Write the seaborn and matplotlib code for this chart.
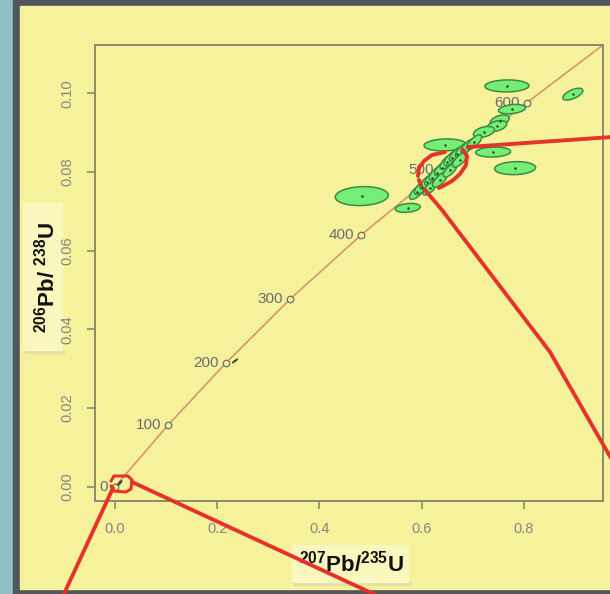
import numpy as np
import pandas as pd
import seaborn as sns
import matplotlib.pyplot as plt
from matplotlib.lines import Line2D
from matplotlib.patches import Rectangle

# concordia ages (Ma) and their ratios
ages = [0, 100, 200, 300, 400, 500, 600]
conc_x = [0.0, 0.1035, 0.2172, 0.343, 0.4816, 0.6378, 0.806]
conc_y = [0.0, 0.01563, 0.03149, 0.04773, 0.0640, 0.08064, 0.09764]
# the curve keeps going to the top right corner
conc_end_x = 0.955
conc_end_y = 0.1123

# analyses: centre, half extent of the ellipse on each axis, correlation
ell_x = [0.483, 0.573, 0.646, 0.740, 0.783, 0.767, 0.896, 0.777, 0.753,
         0.747, 0.722,
         0.591, 0.601, 0.611, 0.620, 0.630, 0.640, 0.650, 0.659, 0.669,
         0.681, 0.691, 0.703, 0.616, 0.636, 0.656, 0.675,
         0.235, 0.0098]
ell_y = [0.0739, 0.0709, 0.0869, 0.0851, 0.0810, 0.1019, 0.0998, 0.0960, 0.0931,
         0.0917, 0.0902,
         0.0749, 0.0762, 0.0775, 0.0785, 0.0798, 0.0810, 0.0826, 0.0836, 0.0846,
         0.0856, 0.0866, 0.0876, 0.0759, 0.0780, 0.0805, 0.0831,
         0.0320, 0.0010]
ell_xerr = [0.0519, 0.0245, 0.0411, 0.0342, 0.0401, 0.0431, 0.0196, 0.0264, 0.0186,
            0.0196, 0.0206,
            0.0145, 0.0150, 0.0145, 0.0140, 0.0150, 0.0145, 0.0140, 0.0150, 0.0145,
            0.0150, 0.0140, 0.0145, 0.0135, 0.0145, 0.0135, 0.0145,
            0.0050, 0.0040]
ell_yerr = [0.00241, 0.00114, 0.00152, 0.00127, 0.00165, 0.00152, 0.00150, 0.00120, 0.00140,
            0.00140, 0.00140,
            0.00185, 0.00190, 0.00185, 0.00180, 0.00190, 0.00185, 0.00180, 0.00190, 0.00185,
            0.00190, 0.00180, 0.00185, 0.00175, 0.00185, 0.00175, 0.00185,
            0.0005, 0.0006]
ell_rho = [0.1, 0.25, 0.1, 0.1, 0.1, 0.05, 0.6, 0.3, 0.4,
           0.4, 0.4,
           0.7, 0.7, 0.7, 0.7, 0.7, 0.7, 0.7, 0.7, 0.7,
           0.7, 0.7, 0.7, 0.7, 0.7, 0.7, 0.7,
           0.95, 0.9]
ell_kind = ["green"] * 27 + ["dark"] * 2

x_ticks = [0.0, 0.2, 0.4, 0.6, 0.8]
y_ticks = [0.00, 0.02, 0.04, 0.06, 0.08, 0.10]

W, H = 610, 594
TEAL = "#8EC0C5"
DARK = "#51565B"
YELLOW = "#F6F29C"
LABEL_BOX = "#FAF7BE"
RED = "#E5322A"


def fx(x):
    return x / W


def fy(y):
    return 1 - y / H


def red_stroke(fig, pts, lw=2.8):
    xs = [fx(p[0]) for p in pts]
    ys = [fy(p[1]) for p in pts]
    fig.add_artist(Line2D(xs, ys, transform=fig.transFigure, color=RED,
                          lw=lw, solid_capstyle="round", zorder=20))


def label_box(fig, x0, y0, x1, y1):
    # slide text box with a faint shadow under it
    fig.patches.append(Rectangle((fx(x0 + 2), fy(y1 + 3)), fx(x1) - fx(x0),
                                 fy(y1) - fy(y1 + 3), transform=fig.transFigure,
                                 color="#E4E0A6", zorder=-8))
    fig.patches.append(Rectangle((fx(x0), fy(y1)), fx(x1) - fx(x0),
                                 fy(y0) - fy(y1), transform=fig.transFigure,
                                 color=LABEL_BOX, zorder=-7))


def main() -> None:
    sns.set_theme(style="white")
    plt.rcParams["font.family"] = ["Liberation Sans", "DejaVu Sans"]
    plt.rcParams["mathtext.fontset"] = "custom"
    plt.rcParams["mathtext.rm"] = "Liberation Sans"
    plt.rcParams["mathtext.bf"] = "Liberation Sans:bold"

    fig = plt.figure(figsize=(W / 100, H / 100), dpi=100, facecolor=TEAL)
    # slide frame: dark border and yellow panel
    fig.patches.append(Rectangle((fx(13), 0), 1, 1, transform=fig.transFigure,
                                 color=DARK, zorder=-10))
    fig.patches.append(Rectangle((fx(20), fy(589)), 1, fy(6) - fy(589),
                                 transform=fig.transFigure, color=YELLOW, zorder=-9))
    label_box(fig, 292, 545, 408, 582)
    label_box(fig, 23, 203, 62, 350)

    ax = fig.add_axes([fx(95), fy(501), fx(603) - fx(95), fy(45) - fy(501)])
    ax.set_facecolor(YELLOW)

    conc = pd.DataFrame({"x": conc_x + [conc_end_x], "y": conc_y + [conc_end_y]})
    sns.lineplot(data=conc, x="x", y="y", sort=False, color="#D9946C",
                 lw=1.2, ax=ax, zorder=2)
    marks = pd.DataFrame({"x": conc_x, "y": conc_y, "age": ages})
    sns.scatterplot(data=marks, x="x", y="y", s=22, facecolor=YELLOW,
                    edgecolor="#6E6E6E", linewidth=0.9, ax=ax, zorder=3)
    for _, r in marks.iterrows():
        ax.annotate(str(int(r["age"])), (r["x"], r["y"]), xytext=(-5, 0),
                    textcoords="offset points", ha="right", va="center",
                    fontsize=11, color="#6C6C6C", zorder=2)

    t = np.linspace(0, 2 * np.pi, 120)
    for x, y, sx, sy, rho, kind in zip(ell_x, ell_y, ell_xerr, ell_yerr,
                                       ell_rho, ell_kind):
        ex = x + sx * np.cos(t)
        ey = y + sy * (rho * np.cos(t) + np.sqrt(1 - rho ** 2) * np.sin(t))
        if kind == "green":
            ax.fill(ex, ey, facecolor="#74EE74", edgecolor="#3D8A45",
                    lw=1.1, zorder=4)
        else:
            ax.fill(ex, ey, facecolor="#2F4F2F", edgecolor="#2F4F2F",
                    lw=0.8, zorder=4)
    centres = pd.DataFrame({"x": ell_x, "y": ell_y})
    sns.scatterplot(data=centres[:27], x="x", y="y", s=3, color="#1E3A1E",
                    linewidth=0, ax=ax, zorder=5)

    ax.set_xlim(-0.039, 0.955)
    ax.set_ylim(-0.0036, 0.1123)
    ax.set_xticks(x_ticks)
    ax.set_xticklabels([f"{v:.1f}" for v in x_ticks])
    ax.set_yticks(y_ticks)
    ax.set_yticklabels([f"{v:.2f}" for v in y_ticks], rotation=90, va="center")
    ax.set_xlabel("")
    ax.set_ylabel("")
    ax.tick_params(length=6, width=1.2, color="#8C8B6B", labelcolor="#858585",
                   labelsize=10.5, pad=9, direction="out")
    ax.tick_params(axis="x", bottom=True)
    ax.tick_params(axis="y", left=True)
    for s in ax.spines.values():
        s.set_color("#8C8B6B")
        s.set_linewidth(1.4)

    fig.text(fx(351), fy(564), r"$\mathbf{^{207}}$Pb/$\mathbf{^{235}}$U",
             fontsize=16, fontweight="bold", ha="center", va="center",
             color="#111111")
    fig.text(fx(47), fy(277), r"$\mathbf{^{206}}$Pb/ $\mathbf{^{238}}$U",
             fontsize=16, fontweight="bold", ha="center", va="center",
             rotation=90, color="#111111")

    # hand drawn red highlights
    red_stroke(fig, [(111, 481), (114, 476), (128, 476), (132, 480), (131, 489),
                     (126, 492), (114, 491), (111, 486)], lw=2.2)
    red_stroke(fig, [(113, 488), (63, 596)])
    red_stroke(fig, [(132, 482), (378, 596)])
    red_stroke(fig, [(445, 152), (432, 155), (424, 161), (419, 168), (418, 176)])
    red_stroke(fig, [(419, 180), (421, 185)])
    red_stroke(fig, [(463, 150), (467, 156), (466, 165), (460, 174), (452, 181),
                     (443, 186), (439, 188)])
    red_stroke(fig, [(468, 147), (612, 137)])
    red_stroke(fig, [(425, 190), (442, 210), (550, 352), (612, 460)])

    fig.savefig("out.png", dpi=100, facecolor=TEAL)


if __name__ == "__main__":
    main()
